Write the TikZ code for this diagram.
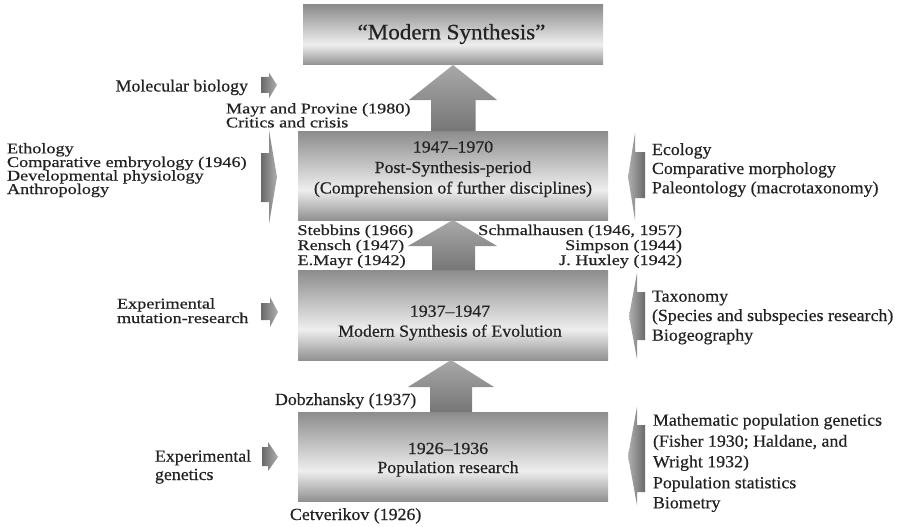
\documentclass[tikz,border=0pt]{standalone}
\usepackage{fontspec}
\setmainfont{Liberation Serif}[FakeStretch=1.05, FakeBold=0.5]
\newfontfamily\tightfamily{Liberation Serif}[FakeStretch=1.23, FakeBold=0.5]
\usetikzlibrary{calc}

\definecolor{ink}{RGB}{35,33,34}
\definecolor{bxtop}{RGB}{140,140,140}
\definecolor{bxlight}{RGB}{238,238,238}
\definecolor{bxbot}{RGB}{145,145,145}
\definecolor{arrtop}{RGB}{168,168,168}
\definecolor{arrbot}{RGB}{118,118,118}
\definecolor{sidedark}{RGB}{105,105,105}
\definecolor{sidelight}{RGB}{175,175,175}

% barrel-like grey band: dark at the edges, brightest a bit below the middle
\pgfdeclareverticalshading{barrel}{100bp}{%
  color(0bp)=(bxbot); color(25bp)=(bxbot); color(42bp)=(bxlight);
  color(75bp)=(bxtop); color(100bp)=(bxtop)}

\newcommand\bodyfont{\fontsize{17pt}{18pt}\selectfont}
\newcommand\tightfont{\tightfamily\fontsize{14.8pt}{15pt}\selectfont}
\newcommand\titlefont{\fontsize{22pt}{24pt}\selectfont}

\begin{document}
\begin{tikzpicture}[x=1pt,y=-1pt,
  box/.style={inner sep=0pt, outer sep=0pt, shading=barrel, draw=none},
  txt/.style={inner sep=0pt, outer sep=0pt, text=ink, font=\bodyfont},
  ttxt/.style={txt, font=\tightfont},
  uparrow/.style={top color=arrtop, bottom color=arrbot, draw=none},
  rightarr/.style={left color=sidedark, right color=sidelight, draw=none},
  leftarr/.style={left color=sidelight, right color=sidedark, draw=none}]
\useasboundingbox (0,0) rectangle (900,527);

% ---- period boxes ----
\node[box, minimum width=300pt, minimum height=60pt] (syn) at (453,35) {};
\node[box, minimum width=310pt, minimum height=89pt] (b47) at (453,175.5) {};
\node[box, minimum width=310pt, minimum height=90pt] (b37) at (453,315) {};
\node[box, minimum width=310pt, minimum height=89pt] (b26) at (453,456.5) {};

% ---- texts inside the boxes ----
\node[txt, font=\titlefont, anchor=base] (syntitle) at (451.5,39.3) {“Modern Synthesis”};
\node[txt, anchor=base] (p47a) at (453,152.5) {1947–1970};
\node[txt, anchor=base] (p47b) at (453,173) {Post-Synthesis-period};
\node[txt, anchor=base] (p47c) at (453,193.5) {(Comprehension of further disciplines)};
\node[txt, anchor=base] (p37a) at (450,316.7) {1937–1947};
\node[txt, anchor=base] (p37b) at (450,336.7) {Modern Synthesis of Evolution};
\node[txt, anchor=base] (p26a) at (448,454) {1926–1936};
\node[txt, anchor=base] (p26b) at (448,473) {Population research};

% ---- upward block arrows between the boxes ----
\shade[uparrow] (syn.south) -- ++(44,35) -- ++(-21.5,0)
  |- ($(b47.north)+(-22,0)$) |- ($(syn.south)+(-44,35)$) -- cycle;
\shade[uparrow] (b47.south) -- ++(44,26) -- ++(-22,0)
  |- ($(b37.north)+(-21,0)$) |- ($(b47.south)+(-45,26)$) -- cycle;
\shade[uparrow] ($(b37.south)+(-2,0)$) -- ++(43,27) -- ++(-22,0)
  |- ($(b26.north)+(-23,0)$) |- ($(b37.south)+(-45,27)$) -- cycle;

% ---- names beside the arrows ----
\node[ttxt, anchor=base west] (mp1) at (226,113.4) {Mayr and Provine (1980)};
\node[ttxt, anchor=base west] (mp2) at (226,127.4) {Critics and crisis};
\node[ttxt, anchor=base west] (st1) at (297.5,235) {Stebbins (1966)};
\node[ttxt, anchor=base west] (st2) at (297.5,250) {Rensch (1947)};
\node[ttxt, anchor=base west] (st3) at (297.5,265) {E.Mayr (1942)};
\node[ttxt, anchor=base east] (sc1) at (682,235) {Schmalhausen (1946, 1957)};
\node[ttxt, anchor=base east] (sc2) at (682,250) {Simpson (1944)};
\node[ttxt, anchor=base east] (sc3) at (682,265) {J. Huxley (1942)};
\node[txt, anchor=base west] (dob) at (275,405) {Dobzhansky (1937)};
\node[txt, anchor=base west] (cet) at (290,520) {Cetverikov (1926)};

% ---- left-hand inputs ----
\node[txt, anchor=base east] (mol) at (248,91.5) {Molecular biology};
\node[ttxt, anchor=base west] (eth1) at (7,153.3) {Ethology};
\node[ttxt, anchor=base west] (eth2) at (7,167) {Comparative embryology (1946)};
\node[ttxt, anchor=base west] (eth3) at (7,180.5) {Developmental physiology};
\node[ttxt, anchor=base west] (eth4) at (7,194) {Anthropology};
\node[ttxt, anchor=base west] (mut1) at (117,308.5) {Experimental};
\node[ttxt, anchor=base west] (mut2) at (117,323) {mutation-research};
\node[txt, anchor=base west] (gen1) at (155,461.7) {Experimental};
\node[txt, anchor=base west] (gen2) at (155,480) {genetics};

\shade[rightarr] (261,77) -- (269,77) -- (269,72.7) -- (277,85) -- (269,98.3) -- (269,93) -- (261,93) -- cycle;
\shade[rightarr] (261,153) -- (269,153) -- (269,130) -- (277,177) -- (269,224) -- (269,202) -- (261,202) -- cycle;
\shade[rightarr] (261,303) -- (270,303) -- (270,297) -- (278,312) -- (270,327) -- (270,320) -- (261,320) -- cycle;
\shade[rightarr] (262,447) -- (268,447) -- (268,442) -- (278,457) -- (268,471) -- (268,466) -- (262,466) -- cycle;

% ---- right-hand inputs ----
\node[txt, anchor=base west] (eco1) at (652,155) {Ecology};
\node[txt, anchor=base west] (eco2) at (652,174) {Comparative morphology};
\node[txt, anchor=base west] (eco3) at (652,193.3) {Paleontology (macrotaxonomy)};
\node[txt, anchor=base west] (tax1) at (652,301.7) {Taxonomy};
\node[txt, anchor=base west] (tax2) at (652,321) {(Species and subspecies research)};
\node[txt, anchor=base west] (tax3) at (652,340.7) {Biogeography};
\node[txt, anchor=base west] (mat1) at (653,425.7) {Mathematic population genetics};
\node[txt, anchor=base west] (mat2) at (653,446.7) {(Fisher 1930; Haldane, and};
\node[txt, anchor=base west] (mat3) at (653,467.3) {Wright 1932)};
\node[txt, anchor=base west] (mat4) at (653,488.3) {Population statistics};
\node[txt, anchor=base west] (mat5) at (653,508.3) {Biometry};

\shade[leftarr] (645,152) -- (635,152) -- (635,133) -- (628,177) -- (635,220) -- (635,198) -- (645,198) -- cycle;
\shade[leftarr] (645,292) -- (637,292) -- (637,273) -- (629,316) -- (637,359) -- (637,340) -- (645,340) -- cycle;
\shade[leftarr] (645,425) -- (637,425) -- (637,407) -- (628,456) -- (637,505) -- (637,492) -- (645,492) -- cycle;
\end{tikzpicture}
\end{document}
